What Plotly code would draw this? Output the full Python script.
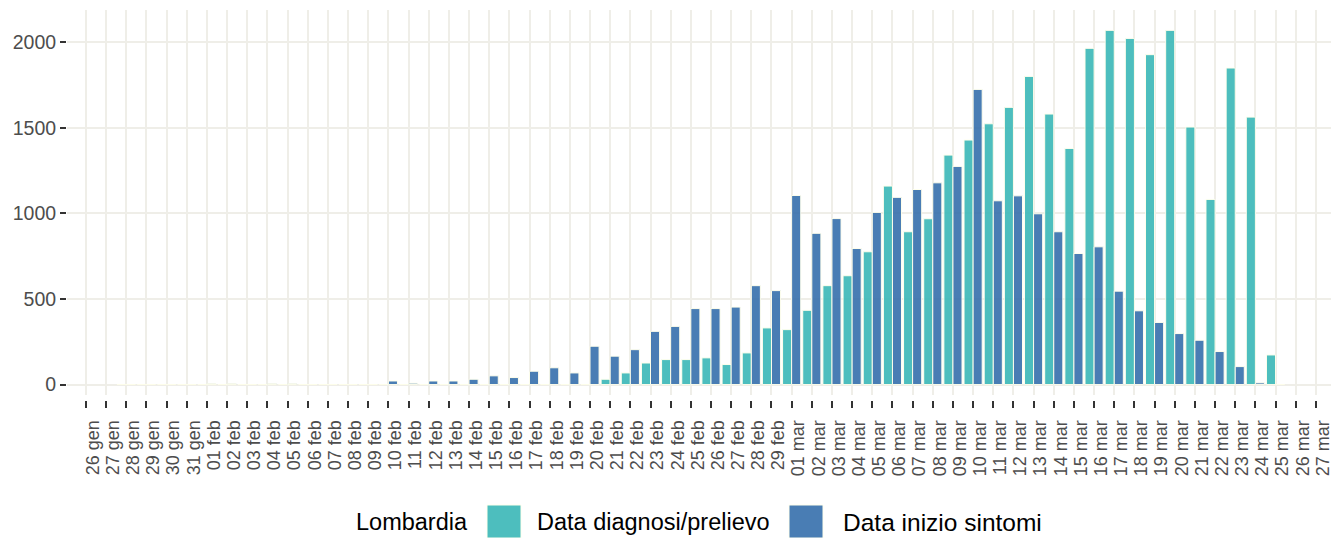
import plotly.graph_objects as go

# ---- data ----
dates = (["26 gen", "27 gen", "28 gen", "29 gen", "30 gen", "31 gen"]
         + ["%02d feb" % d for d in range(1, 30)]
         + ["%02d mar" % d for d in range(1, 28)])

diagnosi = ([None, None, 0, 0, 0, 0]
            + [0] * 19
            + [0, 31, 68, 126, 146, 146, 156, 117, 185, 331]
            + [321, 434, 578, 636, 776, 1160, 893, 969, 1341, 1429,
               1524, 1620, 1801, 1581, 1380, 1965, 2070, 2023, 1928, 2070,
               1505, 1082, 1850, 1563, 173, None, None])

sintomi = ([None, None, 0, 0, 0, 0]
           + [5, 5, 0, 5, 5, 0, 0, 0, 0, 21, 8, 21, 21, 31, 51, 41, 78, 98, 68]
           + [224, 166, 204, 311, 340, 444, 444, 453, 578, 549]
           + [1105, 884, 970, 795, 1006, 1094, 1140, 1179, 1275, 1725,
              1074, 1103, 998, 893, 766, 805, 546, 431, 363, 298,
              259, 193, 105, 10, 0, None, None])

series_names = ["Data diagnosi/prelievo", "Data inizio sintomi"]
series_colors = ["rgb(58,184,184)", "rgb(54,111,172)"]
legend_title = "Lombardia"
y_ticks = [0, 500, 1000, 1500, 2000]

# page body has an 8px margin: size the figure so it fits the 1339x538 window
OFF = 8
W, H = 1339 - OFF, 538 - OFF
ML, MR, MT, MB = 67 - OFF, 7, 10 - OFF, 138
grid_col = "#EFEEE8"

fig = go.Figure()
for name, vals, col in zip(series_names, [diagnosi, sintomi], series_colors):
    fig.add_bar(x=dates, y=vals, name=name, showlegend=False,
                marker=dict(color=col, opacity=0.9,
                            line=dict(color="#FFFFEC", width=1)))

fig.update_layout(
    width=W, height=H, barmode="group", bargap=0.1, bargroupgap=0,
    margin=dict(l=ML, r=MR, t=MT, b=MB, autoexpand=False),
    plot_bgcolor="white", paper_bgcolor="white",
    font=dict(family="Liberation Sans, Arial, sans-serif"),
)

fig.update_xaxes(
    type="category", range=[-0.94, 61.8], automargin=False,
    tickmode="array", tickvals=dates, ticktext=dates,
    tickangle=-90, ticks="outside", ticklen=7, tickwidth=2, tickcolor="#333333",
    showgrid=True, gridcolor=grid_col, gridwidth=2,
    anchor="free", position=0,
    tickfont=dict(size=18, color="#4D4D4D"),
    ticklabelshift=7, ticklabelstandoff=5,
    showline=False, zeroline=False,
)

fig.update_yaxes(
    range=[-61, 2189], domain=[5 / (H - MT - MB), 1], automargin=False,
    tickmode="array", tickvals=y_ticks, ticktext=[str(v) for v in y_ticks],
    ticks="outside", ticklen=6, tickwidth=1.5, tickcolor="#333333",
    showgrid=True, gridcolor=grid_col, gridwidth=2,
    zeroline=False, showline=False,
    tickfont=dict(size=19.5, color="#4D4D4D"),
)

# ---- manual legend (reference-pixel -> paper helpers) ----
PW = W - ML - MR
PH = H - MT - MB


def px(xp):
    return (xp - OFF - ML) / PW


def py(yp):
    return (H - MB - (yp - OFF)) / PH


leg_y = 522
fig.add_annotation(x=px(355), y=py(leg_y), xref="paper", yref="paper",
                   text=legend_title, showarrow=False, xanchor="left",
                   yanchor="middle", borderpad=0,
                   font=dict(size=23.5, color="#000000"))
key_x = [487, 789]
text_x = [536, 842]
text_sizes = [23.5, 24.5]
for kx, tx, ts, name, col in zip(key_x, text_x, text_sizes, series_names, series_colors):
    fig.add_shape(type="rect", xref="paper", yref="paper",
                  x0=px(kx), x1=px(kx + 34), y0=py(leg_y + 16), y1=py(leg_y - 17),
                  fillcolor=col, opacity=0.9,
                  line=dict(color="#FFFFEC", width=1))
    fig.add_annotation(x=px(tx), y=py(leg_y), xref="paper", yref="paper",
                       text=name, showarrow=False, xanchor="left",
                       yanchor="middle", borderpad=0,
                       font=dict(size=ts, color="#000000"))

fig.write_html("out.html")
